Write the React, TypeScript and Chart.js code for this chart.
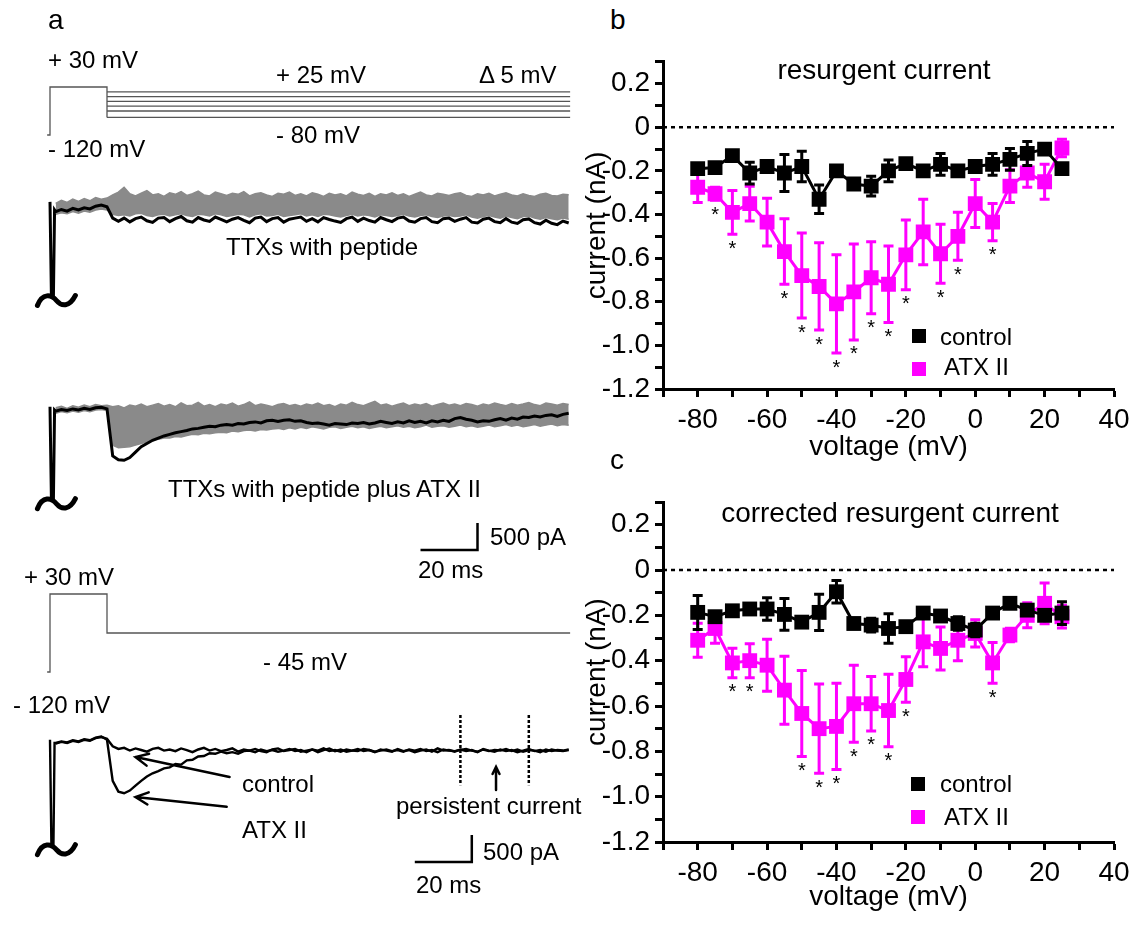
import React, { useEffect, useRef } from 'react';
import { Chart, registerables } from 'chart.js';
Chart.register(...registerables);

const FONT = "'Liberation Sans', Arial, Helvetica, sans-serif";
const MAGENTA = '#FF00FF';

// ---------------- Panels b / c : I-V data ----------------
const VOLTAGES = [-80, -75, -70, -65, -60, -55, -50, -45, -40, -35, -30, -25, -20, -15, -10, -5, 0, 5, 10, 15, 20, 25];

const B_CONTROL = [-0.19, -0.185, -0.13, -0.21, -0.18, -0.21, -0.18, -0.33, -0.2, -0.26, -0.27, -0.2, -0.167, -0.2, -0.17, -0.2, -0.18, -0.17, -0.147, -0.12, -0.1, -0.19];
const B_CONTROL_ERR = [0.02, 0.02, 0.02, 0.05, 0.02, 0.085, 0.07, 0.065, 0.02, 0.02, 0.045, 0.05, 0.02, 0.02, 0.05, 0.02, 0.02, 0.05, 0.05, 0.055, 0.02, 0.02];
const B_ATX = [-0.275, -0.305, -0.39, -0.35, -0.435, -0.57, -0.68, -0.73, -0.81, -0.755, -0.69, -0.72, -0.585, -0.48, -0.58, -0.5, -0.35, -0.435, -0.27, -0.21, -0.25, -0.095];
const B_ATX_ERR = [0.07, 0.03, 0.1, 0.08, 0.11, 0.15, 0.195, 0.2, 0.225, 0.22, 0.165, 0.175, 0.16, 0.15, 0.135, 0.11, 0.11, 0.085, 0.075, 0.065, 0.08, 0.04];
const B_STARS = [-75, -70, -55, -50, -45, -40, -35, -30, -25, -20, -10, -5, 5];

const C_CONTROL = [-0.187, -0.206, -0.18, -0.172, -0.172, -0.196, -0.23, -0.187, -0.096, -0.236, -0.243, -0.258, -0.25, -0.19, -0.203, -0.236, -0.265, -0.19, -0.147, -0.177, -0.2, -0.19];
const C_CONTROL_ERR = [0.075, 0.02, 0.02, 0.02, 0.05, 0.07, 0.02, 0.08, 0.05, 0.02, 0.03, 0.065, 0.02, 0.02, 0.02, 0.03, 0.03, 0.02, 0.02, 0.02, 0.02, 0.05];
const C_ATX = [-0.31, -0.258, -0.41, -0.4, -0.42, -0.53, -0.633, -0.7, -0.69, -0.59, -0.59, -0.62, -0.483, -0.317, -0.346, -0.31, -0.28, -0.41, -0.287, -0.2, -0.147, -0.206];
const C_ATX_ERR = [0.075, 0.065, 0.065, 0.075, 0.115, 0.15, 0.19, 0.197, 0.19, 0.17, 0.12, 0.16, 0.1, 0.11, 0.095, 0.09, 0.06, 0.09, 0.03, 0.055, 0.09, 0.05];
const C_STARS = [-70, -65, -50, -45, -40, -35, -30, -25, -20, 5];

const ZERO_LINE_X = [-90, 40];

// ---------------- Panel a : protocols and traces ----------------
// protocol 1 (schematic levels, mV)
const PROTO1_STEP_T = [-1, 0, 0, 20, 20];
const PROTO1_STEP_V = [-120, -120, 30, 30, -65];
const PROTO1_TEST = [15, 0, -15, -30, -45, -65];
// protocol 2 (mV)
const PROTO2_T = [-1, 0, 0, 20, 20, 182.5];
const PROTO2_V = [-120, -120, 30, 30, -45, -45];
const PROTO_END_T = 182.5;

// capacitive transient (ms) and its values per trace (pA)
const SPIKE_T = [0, 0.5, 1.2, 1.6];
const TR1_SPIKE = [150, -1600, -1600, 0];
const TR2_SPIKE = [60, -1660, -1660, 0];
const TR3_SPIKE = [60, -1900, -1900, 0];

// traces sampled every 2 ms from t = 2 ms (pA)
const TRACE_T0 = 2;
const TRACE_DT = 2;

const TR1_BLACK = [
  -30, 10, -20, 30, 0, 40, 20, 70, 90, 60,
  -150, -210, -150, -220, -160, -130, -200, -230, -150, -140,
  -215, -160, -120, -200, -225, -140, -185, -210, -130, -175,
  -220, -170, -140, -190, -235, -150, -130, -215, -160, -140,
  -225, -170, -150, -130, -210, -160, -220, -140, -175, -205,
  -230, -160, -130, -210, -150, -195, -225, -140, -180, -215,
  -150, -130, -205, -225, -160, -140, -215, -235, -160, -150,
  -210, -170, -140, -225, -240, -170, -150, -215, -235, -160,
  -225, -250, -180, -165, -235, -260, -190, -245, -270, -205,
  -240,
];
const TR1_GRAY_HI = [
  120, 180, 140, 200, 160, 210, 170, 230, 200, 220,
  280, 330, 420, 300, 260, 310, 360, 280, 300, 250,
  320, 290, 340, 270, 300, 350, 280, 260, 330, 300,
  270, 310, 290, 340, 260, 300, 320, 280, 250, 310,
  290, 330, 270, 300, 260, 320, 290, 250, 310, 280,
  300, 260, 330, 290, 270, 310, 250, 300, 280, 320,
  270, 300, 250, 290, 330, 280, 260, 310, 290, 270,
  300, 320, 270, 250, 300, 280, 310, 260, 290, 320,
  280, 260, 300, 270, 250, 290, 310, 270, 260, 290,
  280,
];
const TR1_GRAY_LO = [
  -80, -50, -70, -30, -60, -20, -40, 0, 20, 0,
  -80, -100, -90, -110, -70, -60, -100, -120, -90, -80,
  -110, -90, -70, -100, -120, -80, -90, -110, -70, -90,
  -120, -100, -80, -90, -130, -90, -70, -110, -100, -80,
  -120, -100, -90, -70, -110, -90, -120, -80, -90, -110,
  -130, -100, -80, -110, -90, -100, -130, -90, -100, -120,
  -100, -80, -110, -130, -100, -90, -120, -140, -110, -100,
  -120, -110, -90, -130, -150, -120, -100, -130, -150, -110,
  -140, -160, -120, -110, -150, -170, -140, -160, -180, -150,
  -170,
];

const TR2_BLACK = [
  -20, 10, -10, 20, 0, 30, 10, 40, 50, 20,
  -850, -920, -930, -880, -780, -680, -620, -560, -520, -480,
  -450, -420, -400, -380, -350, -340, -320, -300, -310, -280,
  -270, -280, -250, -260, -230, -220, -240, -200, -190, -210,
  -190, -180, -210, -200, -230, -250, -240, -260, -280, -250,
  -260, -270, -240, -250, -230, -260, -240, -210, -230, -250,
  -220, -240, -200, -230, -210, -240, -200, -220, -190, -210,
  -160, -140, -170, -190, -220, -200, -210, -180, -160, -190,
  -150, -170, -130, -140, -110, -130, -100, -90, -120, -80,
  -60,
];
const TR2_GRAY_HI = [
  40, 70, 30, 80, 50, 90, 60, 100, 80, 90,
  60, 80, 40, 90, 70, 110, 60, 90, 120, 70,
  100, 60, 130, 80, 90, 140, 70, 100, 60, 110,
  90, 130, 70, 100, 150, 80, 110, 90, 60, 100,
  120, 80, 100, 70, 110, 90, 130, 80, 100, 60,
  110, 90, 140, 100, 80, 120, 160, 90, 110, 70,
  100, 130, 80, 110, 90, 120, 70, 100, 130, 90,
  110, 80, 120, 100, 70, 110, 90, 130, 100, 80,
  120, 90, 110, 140, 100, 80, 130, 110, 90, 120,
  100,
];
const TR2_GRAY_LO = [
  -60, -30, -50, -20, -40, -10, -30, 0, 10, -10,
  -650, -700, -690, -680, -650, -620, -590, -560, -540, -520,
  -520, -490, -500, -470, -450, -460, -430, -440, -420, -410,
  -420, -390, -400, -380, -370, -390, -360, -370, -350, -340,
  -360, -330, -350, -320, -340, -310, -330, -350, -320, -310,
  -340, -320, -300, -330, -310, -340, -320, -300, -330, -310,
  -290, -320, -300, -330, -310, -280, -320, -300, -290, -320,
  -300, -280, -310, -290, -320, -300, -280, -310, -290, -270,
  -300, -280, -310, -290, -270, -300, -280, -260, -290, -270,
  -280,
];

const TR3_CONTROL = [
  -10, 20, 0, 40, 20, 60, 40, 90, 110, 80,
  -60, -110, -90, -140, -100, -130, -160, -110, -90, -140,
  -120, -150, -100, -130, -170, -120, -90, -140, -110, -150,
  -130, -100, -160, -120, -140, -110, -150, -170, -120, -100,
  -150, -130, -110, -160, -140, -120, -170, -130, -100, -150,
  -120, -160, -140, -110, -150, -130, -170, -120, -140, -160,
  -110, -150, -130, -170, -140, -120, -160, -100, -140, -130,
  -160, -120, -150, -130, -170, -110, -140, -160, -120, -150,
  -130, -170, -140, -110, -150, -130, -160, -120, -140, -150,
  -130,
];
const TR3_ATX = [
  0, 30, 10, 50, 30, 70, 50, 100, 120, 60,
  -700, -900, -930, -880, -790, -700, -620, -560, -520, -470,
  -450, -390, -400, -320, -310, -250, -240, -190, -200, -160,
  -190, -170, -200, -150, -140, -170, -120, -150, -130, -160,
  -140, -110, -150, -130, -170, -120, -140, -100, -150, -130,
  -160, -120, -140, -150, -110, -130, -160, -140, -120, -150,
  -130, -160, -120, -140, -110, -150, -130, -170, -120, -140,
  -150, -130, -110, -140, -160, -120, -150, -130, -140, -110,
  -150, -120, -160, -130, -140, -170, -120, -150, -130, -140,
  -120,
];

// annotations on trace 3 (ms, pA)
const CONTROL_ARROW = { from: [63, -630], to: [30, -260] };
const ATX_ARROW = { from: [62, -1180], to: [30, -1000] };
const PERSIST_ARROW = { from: [156.5, -870], to: [156.5, -440] };
const PERSIST_WINDOW_T = [144, 168];
const PERSIST_WINDOW_PA = [520, -780];

// scale bars
const SCALEBAR_MS = 20;
const SCALEBAR_PA = 500;
const SCALEBAR1_ORIGIN = [130, -2590]; // trace 2 axis
const SCALEBAR2_ORIGIN = [128, -2200]; // trace 3 axis

// ---------------- layout (page pixels) ----------------
const PANEL_A_W = 580;
const PANEL_A_H = 931;
const T0_X = 50;
const PX_PER_MS = 2.85;
const PA_PER_PX = 18.5;
const TR1_ZERO_Y = 210;
const TR2_ZERO_Y = 410;
const TR3_ZERO_Y = 743;
const PROTO1_REF = { mv: 30, y: 87, pxPerMv: 0.32 };
const PROTO2_REF = { mv: -45, y: 633, pxPerMv: 0.52 };

const paAxis = (y0: number) => ({
  type: 'linear', display: false,
  min: (y0 - PANEL_A_H) * PA_PER_PX, max: y0 * PA_PER_PX,
});
const mvAxis = (ref: any) => ({
  type: 'linear', display: false,
  min: ref.mv - (PANEL_A_H - ref.y) / ref.pxPerMv, max: ref.mv + ref.y / ref.pxPerMv,
});

const pts = (ts: number[], vs: number[]) => ts.map((t, i) => ({ x: t, y: vs[i] }));
const tracePts = (vals: number[]) => vals.map((v, i) => ({ x: TRACE_T0 + TRACE_DT * i, y: v }));

const traceExtras = {
  id: 'traceExtras',
  afterDatasetsDraw(chart: any, _args: any, opts: any) {
    const ctx = chart.ctx;
    const xs = chart.scales.x;
    ctx.save();
    ctx.strokeStyle = '#000';
    ctx.lineCap = 'round';
    (opts.tildes || []).forEach((td: any) => {
      const ys = chart.scales[td.axis];
      const cx = xs.getPixelForValue(td.t) + 4;
      const cy = ys.getPixelForValue(td.v) + 4;
      ctx.lineWidth = 5;
      ctx.beginPath();
      ctx.moveTo(cx - 19, cy + 5);
      ctx.bezierCurveTo(cx - 14, cy - 8, cx - 5, cy - 6, cx, cy);
      ctx.bezierCurveTo(cx + 5, cy + 6, cx + 13, cy + 7, cx + 19, cy - 5);
      ctx.stroke();
    });
    (opts.arrows || []).forEach((ar: any) => {
      const ys = chart.scales[ar.axis];
      const x1 = xs.getPixelForValue(ar.from[0]);
      const y1 = ys.getPixelForValue(ar.from[1]);
      const x2 = xs.getPixelForValue(ar.to[0]);
      const y2 = ys.getPixelForValue(ar.to[1]);
      const ang = Math.atan2(y2 - y1, x2 - x1);
      const h = ar.head;
      ctx.lineWidth = ar.width;
      ctx.beginPath();
      ctx.moveTo(x1, y1);
      ctx.lineTo(x2, y2);
      ctx.moveTo(x2 - h * Math.cos(ang - 0.45), y2 - h * Math.sin(ang - 0.45));
      ctx.lineTo(x2, y2);
      ctx.lineTo(x2 - h * Math.cos(ang + 0.45), y2 - h * Math.sin(ang + 0.45));
      ctx.stroke();
    });
    ctx.restore();
  },
};

const ivExtras = {
  id: 'ivExtras',
  beforeDatasetDraw(chart: any, args: any) {
    const ds = chart.data.datasets[args.index];
    if (!ds.errors) return;
    const ctx = chart.ctx;
    const xs = chart.scales.x;
    const ys = chart.scales.y;
    ctx.save();
    ctx.strokeStyle = ds.borderColor;
    ctx.lineWidth = 3;
    ds.data.forEach((p: any, i: number) => {
      const e = ds.errors[i];
      const px = xs.getPixelForValue(p.x);
      const y1 = ys.getPixelForValue(p.y + e);
      const y2 = ys.getPixelForValue(p.y - e);
      ctx.beginPath();
      ctx.moveTo(px, y1);
      ctx.lineTo(px, y2);
      ctx.moveTo(px - 5, y1);
      ctx.lineTo(px + 5, y1);
      ctx.moveTo(px - 5, y2);
      ctx.lineTo(px + 5, y2);
      ctx.stroke();
    });
    ctx.restore();
  },
  afterDatasetsDraw(chart: any) {
    const ctx = chart.ctx;
    const xs = chart.scales.x;
    const ys = chart.scales.y;
    ctx.save();
    ctx.fillStyle = '#000';
    ctx.font = `20px ${FONT}`;
    ctx.textAlign = 'center';
    ctx.textBaseline = 'middle';
    chart.data.datasets.forEach((ds: any) => {
      if (!ds.stars) return;
      ds.stars.forEach((v: number) => {
        const i = ds.data.findIndex((p: any) => p.x === v);
        if (i < 0) return;
        const p = ds.data[i];
        const px = xs.getPixelForValue(p.x);
        const py = ys.getPixelForValue(p.y - ds.errors[i]);
        ctx.fillText('*', px, py + 15);
      });
    });
    ctx.restore();
  },
};

function ivConfig(ctrl: number[], ctrlErr: number[], atx: number[], atxErr: number[], stars: number[], padTop: number, xAxisH: number, xTitlePad: number) {
  const tickFont = { family: FONT, size: 28 };
  return {
    type: 'line',
    data: {
      datasets: [
        {
          label: 'control', data: pts(VOLTAGES, ctrl), errors: ctrlErr,
          borderColor: '#000', backgroundColor: '#000', borderWidth: 3,
          pointStyle: 'rect', pointRadius: 10.5, pointHoverRadius: 10.5, pointBorderWidth: 0,
        },
        {
          label: 'ATX II', data: pts(VOLTAGES, atx), errors: atxErr, stars,
          borderColor: MAGENTA, backgroundColor: MAGENTA, borderWidth: 3,
          pointStyle: 'rect', pointRadius: 10.5, pointHoverRadius: 10.5, pointBorderWidth: 0,
        },
        {
          label: 'zero', data: ZERO_LINE_X.map((x) => ({ x, y: 0 })),
          borderColor: '#000', borderWidth: 2.5, borderDash: [4, 4], pointRadius: 0,
        },
      ],
    },
    options: {
      responsive: false, animation: false, devicePixelRatio: 1,
      layout: { padding: { top: padTop, right: 22, left: 0, bottom: 0 } },
      plugins: { legend: { display: false }, tooltip: { enabled: false } },
      scales: {
        x: {
          type: 'linear', min: -90, max: 40,
          ticks: {
            stepSize: 10, autoSkip: false, maxRotation: 0, color: '#000', font: tickFont, padding: 6,
            callback: (v: number) => (Math.round(v) % 20 === 0 ? String(Math.round(v)) : ''),
          },
          grid: { display: true, drawOnChartArea: false, drawTicks: true, tickLength: 8, tickWidth: 3, tickColor: '#000' },
          border: { display: true, color: '#000', width: 3 },
          title: { display: true, text: 'voltage (mV)', color: '#000', font: tickFont, padding: { top: 0, bottom: xTitlePad } },
          afterFit: (s: any) => { s.height = xAxisH; },
        },
        y: {
          type: 'linear', min: -1.2, max: 0.3,
          ticks: {
            stepSize: 0.1, autoSkip: false, color: '#000', font: tickFont, padding: 5,
            callback: (v: number) => {
              const n = Math.round(v * 10);
              if (n % 2 !== 0) return '';
              if (n === 0) return '0';
              return (n / 10).toFixed(1);
            },
          },
          grid: { display: true, drawOnChartArea: false, drawTicks: true, tickLength: 8, tickWidth: 3, tickColor: '#000' },
          border: { display: true, color: '#000', width: 3 },
          title: { display: true, text: 'current (nA)', color: '#000', font: tickFont, padding: { top: 20, bottom: 0 } },
          afterFit: (s: any) => { s.width = 103; },
        },
      },
    },
    plugins: [ivExtras],
  };
}

function panelAConfig() {
  const GRAY = '#8a8a8a';
  const line = (data: any[], axis: string, extra: any = {}) => ({
    data, yAxisID: axis, borderColor: '#000', borderWidth: 2.4, pointRadius: 0, tension: 0, fill: false, ...extra,
  });
  const protoStyle = { borderColor: '#555', borderWidth: 1.3 };
  const datasets: any[] = [
    line([...pts(SPIKE_T, TR3_SPIKE), ...tracePts(TR3_ATX)], 'tr3'),
    line(tracePts(TR3_CONTROL), 'tr3'),
    line([...pts(SPIKE_T, TR2_SPIKE), ...tracePts(TR2_BLACK)], 'tr2', { borderWidth: 3 }),
    line(tracePts(TR2_GRAY_HI), 'tr2', { borderColor: GRAY, borderWidth: 1.5 }),
    line(tracePts(TR2_GRAY_LO), 'tr2', { borderColor: GRAY, borderWidth: 1.5, fill: '-1', backgroundColor: GRAY }),
    line([...pts(SPIKE_T, TR1_SPIKE), ...tracePts(TR1_BLACK)], 'tr1', { borderWidth: 3 }),
    line(tracePts(TR1_GRAY_HI), 'tr1', { borderColor: GRAY, borderWidth: 1.5 }),
    line(tracePts(TR1_GRAY_LO), 'tr1', { borderColor: GRAY, borderWidth: 1.5, fill: '-1', backgroundColor: GRAY }),
    line([
      { x: SCALEBAR1_ORIGIN[0], y: SCALEBAR1_ORIGIN[1] },
      { x: SCALEBAR1_ORIGIN[0] + SCALEBAR_MS, y: SCALEBAR1_ORIGIN[1] },
      { x: SCALEBAR1_ORIGIN[0] + SCALEBAR_MS, y: SCALEBAR1_ORIGIN[1] + SCALEBAR_PA },
    ], 'tr2', { borderWidth: 2.5 }),
    line([
      { x: SCALEBAR2_ORIGIN[0], y: SCALEBAR2_ORIGIN[1] },
      { x: SCALEBAR2_ORIGIN[0] + SCALEBAR_MS, y: SCALEBAR2_ORIGIN[1] },
      { x: SCALEBAR2_ORIGIN[0] + SCALEBAR_MS, y: SCALEBAR2_ORIGIN[1] + SCALEBAR_PA },
    ], 'tr3', { borderWidth: 2.5 }),
    ...PERSIST_WINDOW_T.map((t) => line([
      { x: t, y: PERSIST_WINDOW_PA[0] }, { x: t, y: PERSIST_WINDOW_PA[1] },
    ], 'tr3', { borderWidth: 2.5, borderDash: [3, 2] })),
    line(pts(PROTO1_STEP_T, PROTO1_STEP_V), 'p1', protoStyle),
    ...PROTO1_TEST.map((v) => line([{ x: 20, y: v }, { x: PROTO_END_T, y: v }], 'p1', protoStyle)),
    line(pts(PROTO2_T, PROTO2_V), 'p2', protoStyle),
  ];
  const tildeAt = (axis: string, spike: number[]) => ({ axis, t: (SPIKE_T[1] + SPIKE_T[2]) / 2, v: spike[1] });
  return {
    type: 'line',
    data: { datasets },
    options: {
      responsive: false, animation: false, devicePixelRatio: 1,
      layout: { padding: 0 },
      plugins: {
        legend: { display: false }, tooltip: { enabled: false },
        traceExtras: {
          tildes: [tildeAt('tr1', TR1_SPIKE), tildeAt('tr2', TR2_SPIKE), tildeAt('tr3', TR3_SPIKE)],
          arrows: [
            { axis: 'tr3', ...CONTROL_ARROW, head: 14, width: 2.5 },
            { axis: 'tr3', ...ATX_ARROW, head: 14, width: 2.5 },
            { axis: 'tr3', ...PERSIST_ARROW, head: 8, width: 2.5 },
          ],
        },
      },
      scales: {
        x: { type: 'linear', display: false, min: -T0_X / PX_PER_MS, max: (PANEL_A_W - T0_X) / PX_PER_MS },
        p1: mvAxis(PROTO1_REF),
        p2: mvAxis(PROTO2_REF),
        tr1: paAxis(TR1_ZERO_Y),
        tr2: paAxis(TR2_ZERO_Y),
        tr3: paAxis(TR3_ZERO_Y),
      },
    },
    plugins: [traceExtras],
  };
}

function Txt({ x, base, size = 24, center = false, children }: any) {
  return (
    <div
      style={{
        position: 'absolute', left: x, top: base - 0.846 * size, fontSize: size, lineHeight: 1,
        whiteSpace: 'nowrap', color: '#000', transform: center ? 'translateX(-50%)' : undefined,
      }}
    >
      {children}
    </div>
  );
}

function LegendBox({ x, y, color }: any) {
  return <div style={{ position: 'absolute', left: x, top: y, width: 14, height: 14, background: color }} />;
}

export default function App() {
  const aRef = useRef<HTMLCanvasElement>(null);
  const bRef = useRef<HTMLCanvasElement>(null);
  const cRef = useRef<HTMLCanvasElement>(null);

  useEffect(() => {
    const charts: Chart[] = [];
    if (aRef.current) charts.push(new Chart(aRef.current, panelAConfig() as any));
    if (bRef.current) charts.push(new Chart(bRef.current, ivConfig(B_CONTROL, B_CONTROL_ERR, B_ATX, B_ATX_ERR, B_STARS, 20, 91, 16) as any));
    if (cRef.current) charts.push(new Chart(cRef.current, ivConfig(C_CONTROL, C_CONTROL_ERR, C_ATX, C_ATX_ERR, C_STARS, 22, 89, 17) as any));
    return () => charts.forEach((c) => c.destroy());
  }, []);

  return (
    <div style={{ position: 'absolute', left: 0, top: 0, width: 1136, height: 931, background: '#fff', overflow: 'hidden', fontFamily: FONT }}>
      <canvas ref={aRef} width={PANEL_A_W} height={PANEL_A_H} style={{ position: 'absolute', left: 0, top: 0 }} />
      <canvas ref={bRef} width={576} height={440} style={{ position: 'absolute', left: 560, top: 40 }} />
      <canvas ref={cRef} width={576} height={451} style={{ position: 'absolute', left: 560, top: 480 }} />

      {/* panel a labels */}
      <Txt x={48} base={30} size={28}>a</Txt>
      <Txt x={48} base={68}>+ 30 mV</Txt>
      <Txt x={276} base={83}>+ 25 mV</Txt>
      <Txt x={479} base={83}>Δ 5 mV</Txt>
      <Txt x={276} base={143}>- 80 mV</Txt>
      <Txt x={48} base={157}>- 120 mV</Txt>
      <Txt x={226} base={255}>TTXs with peptide</Txt>
      <Txt x={168} base={497}>TTXs with peptide plus ATX II</Txt>
      <Txt x={490} base={545}>500 pA</Txt>
      <Txt x={418} base={578}>20 ms</Txt>
      <Txt x={24} base={585}>+ 30 mV</Txt>
      <Txt x={263} base={670}>- 45 mV</Txt>
      <Txt x={13} base={713}>- 120 mV</Txt>
      <Txt x={242} base={792}>control</Txt>
      <Txt x={242} base={838}>ATX II</Txt>
      <Txt x={396} base={814}>persistent current</Txt>
      <Txt x={483} base={860}>500 pA</Txt>
      <Txt x={416} base={893}>20 ms</Txt>

      {/* panel b */}
      <Txt x={610} base={30} size={28}>b</Txt>
      <Txt x={884} base={80} size={28} center>resurgent current</Txt>
      <LegendBox x={912} y={329} color="#000" />
      <Txt x={940} base={345}>control</Txt>
      <LegendBox x={912} y={362} color={MAGENTA} />
      <Txt x={944} base={375}>ATX II</Txt>

      {/* panel c */}
      <Txt x={610} base={470} size={28}>c</Txt>
      <Txt x={890} base={523} size={28} center>corrected resurgent current</Txt>
      <LegendBox x={911} y={777} color="#000" />
      <Txt x={940} base={792}>control</Txt>
      <LegendBox x={911} y={810} color={MAGENTA} />
      <Txt x={944} base={825}>ATX II</Txt>
    </div>
  );
}
